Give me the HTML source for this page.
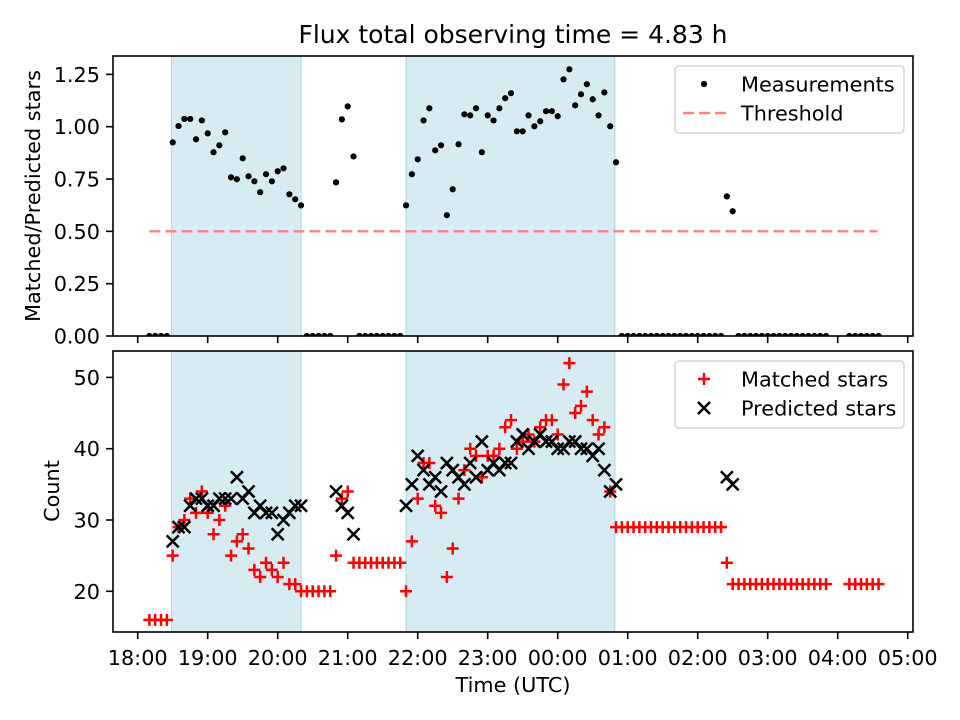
<!DOCTYPE html>
<html><head><meta charset="utf-8"><style>
html,body{margin:0;padding:0;background:#fff}
svg{display:block;font-family:"DejaVu Sans","Liberation Sans",sans-serif}
</style></head><body>
<svg id="chart" width="960" height="720" viewBox="0 0 960 720" xmlns="http://www.w3.org/2000/svg">
<defs>
<clipPath id="clipTop"><rect x="113" y="56" width="800" height="280"/></clipPath>
<clipPath id="clipBot"><rect x="113" y="351" width="800" height="281"/></clipPath>
</defs>
<rect width="960" height="720" fill="#fff"/>
<text x="513" y="43" text-anchor="middle" font-size="25" fill="#000">Flux total observing time = 4.83 h</text>
<g id="gTop"></g>
<g id="gBot"></g>
<text transform="translate(40,196) rotate(-90)" text-anchor="middle" font-size="20.8">Matched/Predicted stars</text>
<text transform="translate(59,491) rotate(-90)" text-anchor="middle" font-size="20.8">Count</text>
<text x="513" y="692" text-anchor="middle" font-size="20.8">Time (UTC)</text>
</svg>
<script>
// minutes after 18:00
var times = [10,15,20,25,
30,35,40,45,50,55,60,65,70,75,80,85,90,95,100,105,110,115,120,125,130,135,140,
145,150,155,160,165,
170,175,180,185,
190,195,200,205,210,215,220,225,
230,235,240,245,250,255,260,265,270,275,280,285,290,295,300,305,310,315,320,325,330,335,340,345,350,355,360,365,370,375,380,385,390,395,400,405,410,
415,420,425,430,435,440,445,450,455,460,465,470,475,480,485,490,495,500,
505,510,
515,520,525,530,535,540,545,550,555,560,565,570,575,580,585,590,
610,615,620,625,630,635];
var ratio = [0,0,0,0,
0.925,1.003,1.037,1.037,0.94,1.03,0.968,0.878,0.911,0.973,0.758,0.749,0.849,0.763,0.739,0.687,0.773,0.739,0.787,0.801,0.677,0.653,0.624,
0,0,0,0,0,
0.734,1.035,1.097,0.858,
0,0,0,0,0,0,0,0,
0.624,0.773,0.844,1.03,1.088,0.887,0.911,0.577,0.701,0.916,1.059,1.054,1.088,0.878,1.054,1.03,1.088,1.136,1.16,0.978,0.978,1.054,1.002,1.026,1.074,1.074,1.05,1.226,1.274,1.102,1.155,1.203,1.131,1.054,1.164,1.002,0.83,
0,0,0,0,0,0,0,0,0,0,0,0,0,0,0,0,0,0,
0.667,0.596,
0,0,0,0,0,0,0,0,0,0,0,0,0,0,0,0,
0,0,0,0,0,0];
var matched = [16,16,16,16,
25,29,30,33,31,34,31,28,30,32,25,27,28,26,23,22,24,23,22,24,21,21,20,
20,20,20,20,20,
25,33,34,24,
24,24,24,24,24,24,24,24,
20,27,33,38,38,32,31,22,26,33,37,40,39,36,39,39,40,43,44,40,41,42,41,43,44,44,42,49,52,45,46,48,44,42,43,34,29,
29,29,29,29,29,29,29,29,29,29,29,29,29,29,29,29,29,29,
24,21,
21,21,21,21,21,21,21,21,21,21,21,21,21,21,21,21,
21,21,21,21,21,21];
var predicted = [null,null,null,null,
27,29,29,32,33,33,32,32,33,33,33,36,33,34,31,32,31,31,28,30,31,32,32,
null,null,null,null,null,
34,32,31,28,
null,null,null,null,null,null,null,null,
32,35,39,37,35,36,34,38,37,36,35,38,36,41,37,38,37,38,38,41,42,40,41,42,41,41,40,40,41,41,40,40,39,40,37,34,35,
null,null,null,null,null,null,null,null,null,null,null,null,null,null,null,null,null,null,
36,35,
null,null,null,null,null,null,null,null,null,null,null,null,null,null,null,null,
null,null,null,null,null,null];
var shadeStart = [29, 230];
var shadeEnd = [140, 409];
var thresholdValue = 0.5;
var thresholdRange = [10, 634];
var xTickLabels = ["18:00","19:00","20:00","21:00","22:00","23:00","00:00","01:00","02:00","03:00","04:00","05:00"];
var xTickMinutes = [0,60,120,180,240,300,360,420,480,540,600,660];
var topTicks = [0,0.25,0.5,0.75,1.0,1.25];
var botTicks = [20,30,40,50];

var NS = "http://www.w3.org/2000/svg";
function X(m){ return 137.7 + m*70/60; }
function YT(v){ return 336 - v*209.3; }
function YB(v){ return 591.3 - (v-20)*7.13; }
function el(tag, attrs, parent){
  var e = document.createElementNS(NS, tag);
  for (var k in attrs) e.setAttribute(k, attrs[k]);
  parent.appendChild(e); return e;
}
var topG = document.getElementById('gTop');
var botG = document.getElementById('gBot');

function panel(g, y0, y1, clip, name){
  var bg = el('rect',{x:113,y:y0,width:800,height:y1-y0,fill:'#fff'},g);
  
  
  var pg = el('g',{'clip-path':'url(#'+clip+')'},g);
  for (var i=0;i<shadeStart.length;i++){
    var r = el('rect',{x:X(shadeStart[i]),y:y0,width:X(shadeEnd[i])-X(shadeStart[i]),height:y1-y0,fill:'rgba(173,216,230,0.5)',stroke:'rgba(173,216,230,0.9)','stroke-width':1.2},pg);
    
    
  }
  return pg;
}
var tp = panel(topG, 56, 336, 'clipTop', 'top');
var bp = panel(botG, 351, 632, 'clipBot', 'bottom');

var th = el('line',{x1:X(thresholdRange[0]),x2:X(thresholdRange[1]),y1:YT(thresholdValue),y2:YT(thresholdValue),stroke:'#ff8080','stroke-width':2.4,'stroke-dasharray':'11,5'},tp);



for (var i=0;i<times.length;i++){
  var c = el('circle',{cx:X(times[i]),cy:YT(ratio[i]),r:3.1,fill:'#000'},tp);
  
  
}
function plus(g,x,y,s,col){
  return el('path',{d:'M'+(x-s)+','+y+'H'+(x+s)+'M'+x+','+(y-s)+'V'+(y+s),stroke:col,'stroke-width':2.5,fill:'none'},g);
}
function cross(g,x,y,s,col){
  return el('path',{d:'M'+(x-s)+','+(y-s)+'L'+(x+s)+','+(y+s)+'M'+(x-s)+','+(y+s)+'L'+(x+s)+','+(y-s),stroke:col,'stroke-width':2.5,fill:'none'},g);
}
for (var i=0;i<times.length;i++){
  var p = plus(bp, X(times[i]), YB(matched[i]), 6, '#ff0000');
  
  
}
for (var i=0;i<times.length;i++){
  if (predicted[i]===null) continue;
  var q = cross(bp, X(times[i]), YB(predicted[i]), 6, '#000');
  
  
}

function spines(g,y0,y1,name){
  var s = el('rect',{x:113,y:y0,width:800,height:y1-y0,fill:'none',stroke:'#000','stroke-width':1.6},g);
  
  
  for (var i=0;i<xTickMinutes.length;i++){
    var t = el('line',{x1:X(xTickMinutes[i]),x2:X(xTickMinutes[i]),y1:y1,y2:y1+7,stroke:'#000','stroke-width':1.6},g);
    
    
  }
}
spines(topG,56,336,'top');
spines(botG,351,632,'bottom');
for (var i=0;i<xTickLabels.length;i++){
  var t = el('text',{x:X(xTickMinutes[i]),y:665,'text-anchor':'middle','font-size':20.8},botG);
  t.textContent = xTickLabels[i];
  
  
}
for (var i=0;i<topTicks.length;i++){
  var y = YT(topTicks[i]);
  var l = el('line',{x1:106,x2:113,y1:y,y2:y,stroke:'#000','stroke-width':1.6},topG);
  
  
  var t = el('text',{x:100,y:y+7.5,'text-anchor':'end','font-size':20.8},topG);
  t.textContent = topTicks[i].toFixed(2);
  
  
}
for (var i=0;i<botTicks.length;i++){
  var y = YB(botTicks[i]);
  var l = el('line',{x1:106,x2:113,y1:y,y2:y,stroke:'#000','stroke-width':1.6},botG);
  
  
  var t = el('text',{x:100,y:y+7.5,'text-anchor':'end','font-size':20.8},botG);
  t.textContent = String(botTicks[i]);
  
  
}

var lg1 = el('g',{},topG);


el('rect',{x:675,y:66,width:229,height:67,rx:4,fill:'rgba(255,255,255,0.8)',stroke:'#cccccc','stroke-width':1.3},lg1);
el('circle',{cx:704,cy:84,r:3.1,fill:'#000'},lg1);
var t1 = el('text',{x:741,y:91.5,'font-size':20.8},lg1); t1.textContent='Measurements';


el('line',{x1:683,x2:726,y1:113,y2:113,stroke:'#ff8080','stroke-width':2.4,'stroke-dasharray':'11,5'},lg1);
var t2 = el('text',{x:741,y:120.5,'font-size':20.8},lg1); t2.textContent='Threshold';



var lg2 = el('g',{},botG);


el('rect',{x:675,y:361,width:229,height:67,rx:4,fill:'rgba(255,255,255,0.8)',stroke:'#cccccc','stroke-width':1.3},lg2);
plus(lg2,704,379,6,'#ff0000');
var t3 = el('text',{x:741,y:386.5,'font-size':20.8},lg2); t3.textContent='Matched stars';


cross(lg2,704,408,6,'#000');
var t4 = el('text',{x:741,y:415.5,'font-size':20.8},lg2); t4.textContent='Predicted stars';


</script>
</body></html>
